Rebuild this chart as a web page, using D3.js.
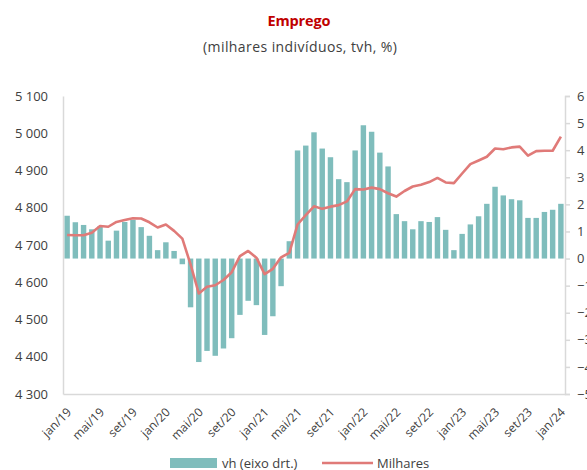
<!DOCTYPE html>
<meta charset="utf-8">
<head>
<style>
  body { margin: 0; background: #fff; }
  svg { display: block; font-family: "Open Sans", sans-serif; }
  .tick text { fill: #404040; }
</style>
</head>
<body>
<svg id="chart" width="587" height="470"></svg>
<script src="https://d3js.org/d3.v7.min.js"></script>
<script>
// monthly, jan/19 .. jan/24
var monthNames = ["jan","fev","mar","abr","mai","jun","jul","ago","set","out","nov","dez"];
var months = [];
for (var yr = 19; yr <= 24; yr++) {
  for (var m = 0; m < 12; m++) {
    if (yr === 24 && m > 0) break;
    months.push(monthNames[m] + "/" + yr);
  }
}

// vh, % (right axis)
var vh = [1.58, 1.34, 1.24, 1.08, 1.19, 0.66, 1.03, 1.35, 1.43, 1.16, 0.84, 0.31,
          0.60, 0.28, -0.21, -1.80, -3.82, -3.41, -3.59, -3.32, -2.94, -2.08, -1.56, -1.72,
          -2.82, -2.13, -1.02, 0.64, 3.99, 4.17, 4.66, 4.06, 3.74, 2.93, 2.82, 3.99,
          4.92, 4.68, 3.91, 3.40, 1.64, 1.38, 1.08, 1.38, 1.35, 1.53, 1.06, 0.31,
          0.91, 1.26, 1.56, 2.02, 2.65, 2.33, 2.19, 2.15, 1.50, 1.50, 1.72, 1.80,
          2.02];

// milhares (left axis)
var milhares = [4727, 4726, 4726, 4733, 4751, 4749, 4762, 4767, 4772, 4771, 4761, 4747,
                4755, 4738, 4717, 4648, 4570, 4588, 4592, 4606, 4627, 4670, 4684, 4666,
                4622, 4636, 4667, 4679, 4755, 4780, 4804, 4797, 4803, 4807, 4817, 4850,
                4849, 4854, 4850, 4839, 4830, 4845, 4857, 4862, 4869, 4880, 4868, 4866,
                4892, 4917, 4927, 4937, 4959, 4957, 4962, 4964, 4940, 4952, 4953, 4953,
                4991];

var leftTicks = [4300, 4400, 4500, 4600, 4700, 4800, 4900, 5000, 5100];
var rightTicks = [-5, -4, -3, -2, -1, 0, 1, 2, 3, 4, 5, 6];
var xTickLabels = months.filter(function(d, i) { return i % 4 === 0; });

var svg = d3.select("#chart"),
    margin = {top: 96, right: 22, bottom: 76, left: 63},
    width = +svg.attr("width") - margin.left - margin.right,
    height = +svg.attr("height") - margin.top - margin.bottom;

var barColor = "#7fbdbc", lineColor = "#e07a78", axisColor = "#d9d9d9";

var x = d3.scaleBand().domain(months).range([0, width]).paddingInner(0.34).paddingOuter(0.17);
var yL = d3.scaleLinear().domain([4300, 5100]).range([height, 0]);
var yR = d3.scaleLinear().domain([-5, 6]).range([height, 0]);

// title
svg.append("text")
    .attr("x", 299).attr("y", 26)
    .attr("text-anchor", "middle")
    .style("font-family", "Open Sans")
    .style("font-weight", "bold")
    .style("font-size", "14.5px")
    .attr("fill", "#c00000")
    .attr("textLength", 63)
    .text("Emprego");
svg.append("text")
    .attr("x", 300).attr("y", 52)
    .attr("text-anchor", "middle")
    .style("font-size", "14px")
    .attr("fill", "#404040")
    .attr("textLength", 194)
    .text("(milhares indivíduos, tvh, %)");

var g = svg.append("g")
    .attr("transform", "translate(" + margin.left + "," + margin.top + ")");

// bars
g.selectAll(".bar")
  .data(vh)
  .enter().append("rect")
    .attr("class", "bar")
    .attr("x", function(d, i) { return x(months[i]); })
    .attr("width", x.bandwidth())
    .attr("y", function(d) { return yR(Math.max(0, d)); })
    .attr("height", function(d) { return Math.abs(yR(d) - yR(0)); })
    .attr("fill", barColor);

// line
var line = d3.line()
    .x(function(d, i) { return x(months[i]) + x.bandwidth() / 2; })
    .y(function(d) { return yL(d); });

g.append("path")
    .datum(milhares)
    .attr("fill", "none")
    .attr("stroke", lineColor)
    .attr("stroke-width", 2.6)
    .attr("stroke-linejoin", "round")
    .attr("d", line);

// left axis
var axL = g.append("g")
    .call(d3.axisLeft(yL).tickValues(leftTicks).tickSize(0).tickPadding(15)
      .tickFormat(function(d) { return d3.format(",")(d).replace(",", " "); }));
axL.select(".domain").attr("stroke", axisColor).attr("stroke-width", 1.5);
axL.selectAll("text").style("font-size", "13px").style("font-family", "Open Sans");

// right axis
var axR = g.append("g")
    .attr("transform", "translate(" + width + ",0)")
    .call(d3.axisRight(yR).tickValues(rightTicks).tickSize(5).tickPadding(7));
axR.select(".domain").attr("stroke", axisColor).attr("stroke-width", 1.5);
axR.selectAll("line").attr("stroke", axisColor).attr("stroke-width", 1.5);
axR.selectAll("text").style("font-size", "13px").style("font-family", "Open Sans");

// bottom axis
var axB = g.append("g")
    .attr("transform", "translate(0," + height + ")")
    .call(d3.axisBottom(x).tickValues(xTickLabels).tickSize(0).tickPadding(0));
axB.select(".domain").attr("stroke", axisColor).attr("stroke-width", 1.5);
axB.selectAll("text")
    .style("font-size", "12px").style("font-family", "Open Sans")
    .attr("text-anchor", "end")
    .attr("dy", null)
    .attr("transform", "translate(5,19) rotate(-45)");

// legend
var lg = svg.append("g");
lg.append("rect").attr("x", 170).attr("y", 458).attr("width", 47).attr("height", 10).attr("fill", barColor);
lg.append("text").attr("x", 222).attr("y", 468).style("font-size", "13px").attr("fill", "#404040").text("vh (eixo drt.)");
lg.append("line").attr("x1", 322).attr("x2", 373).attr("y1", 463).attr("y2", 463)
    .attr("stroke", lineColor).attr("stroke-width", 2.6);
lg.append("text").attr("x", 377).attr("y", 468).style("font-size", "13px").attr("fill", "#404040").text("Milhares");
</script>
</body>
</html>
